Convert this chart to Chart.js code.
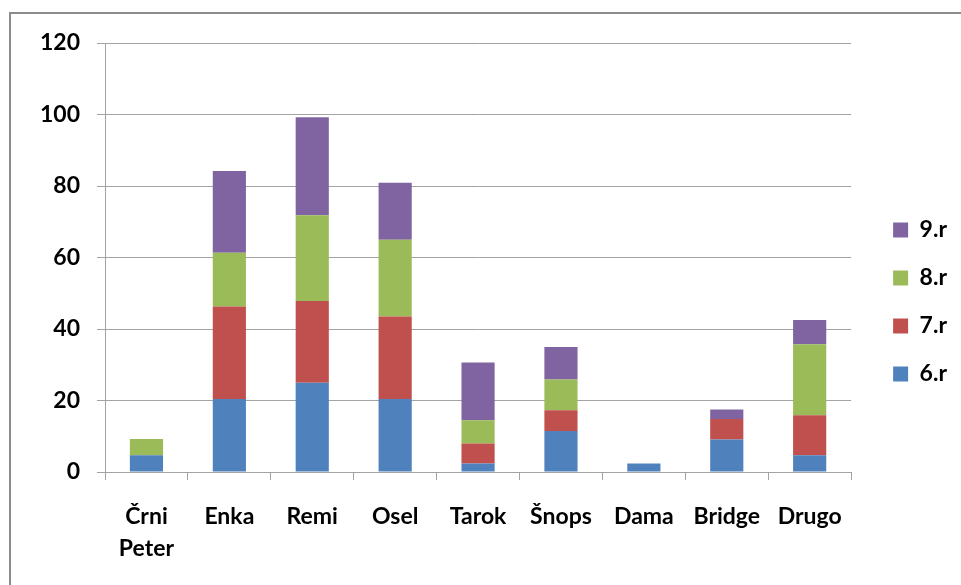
<!DOCTYPE html>
<html>
<head>
<meta charset="utf-8">
<script src="https://cdn.jsdelivr.net/npm/chart.js@4"></script>
<style>
    body { margin: 0; background: #fff; overflow: hidden; }
    #wrap { position: relative; width: 961px; height: 585px; }
    #frame {
        position: absolute; left: 9px; top: 12px; width: 1000px; height: 1000px;
        border-top: 2px solid #8c8c8c; border-left: 2px solid #8c8c8c;
        pointer-events: none;
    }
</style>
</head>
<body>
<div id="wrap">
    <canvas id="gamesChart" width="961" height="585"></canvas>
    <div id="frame"></div>
</div>
<script>
// categories (igre) and values per grade
const categories = [['Črni', 'Peter'], 'Enka', 'Remi', 'Osel', 'Tarok', 'Šnops', 'Dama', 'Bridge', 'Drugo'];
const seriesNames = ['6.r', '7.r', '8.r', '9.r'];
const r6 = [4.7, 20.4, 25.0, 20.4, 2.4, 11.5, 2.4, 9.1, 4.7];
const r7 = [0, 25.9, 22.8, 23.1, 5.6, 5.8, 0, 5.7, 11.2];
const r8 = [4.5, 15.0, 24.0, 21.5, 6.5, 8.6, 0, 0, 19.8];
const r9 = [0, 22.9, 27.4, 15.9, 16.1, 9.1, 0, 2.7, 6.8];
const yTicks = [0, 20, 40, 60, 80, 100, 120];

const colors = ['#4F81BD', '#C0504D', '#9BBB59', '#8064A2'];
const labelFont = { family: 'Lato', size: 23, weight: 'bold', lineHeight: 1.4 };
const gridColor = '#a3a3a3';

const ctx = document.getElementById('gamesChart').getContext('2d');

new Chart(ctx, {
    type: 'bar',
    data: {
        labels: categories,
        datasets: [r6, r7, r8, r9].map((vals, i) => ({
            label: seriesNames[i],
            data: vals,
            backgroundColor: colors[i],
            borderWidth: 0,
            barPercentage: 0.4,
            categoryPercentage: 1.0
        }))
    },
    options: {
        responsive: false,
        animation: false,
        layout: { padding: { left: 40, top: 43, right: 4, bottom: 24 } },
        plugins: {
            legend: {
                position: 'right',
                reverse: true,
                labels: {
                    boxWidth: 15,
                    boxHeight: 15,
                    padding: 25,
                    color: '#000',
                    font: labelFont
                }
            },
            tooltip: { enabled: false }
        },
        scales: {
            x: {
                stacked: true,
                grid: { drawOnChartArea: false, drawTicks: true, tickLength: 8, color: gridColor },
                border: { color: gridColor },
                ticks: { color: '#000', font: labelFont, padding: 20, maxRotation: 0, autoSkip: false },
                afterFit: s => { s.height = 89; }
            },
            y: {
                stacked: true,
                min: yTicks[0],
                max: yTicks[yTicks.length - 1],
                grid: { color: gridColor, tickLength: 8 },
                border: { color: gridColor },
                ticks: { stepSize: 20, color: '#000', font: labelFont, padding: 17 },
                afterFit: s => { s.width = 65; }
            },
            // spacer between plot and legend
            gap: {
                type: 'linear',
                position: 'right',
                display: true,
                grid: { display: false },
                border: { display: false },
                ticks: { display: false },
                afterFit: s => { s.width = 17; }
            }
        }
    }
});
</script>
</body>
</html>
